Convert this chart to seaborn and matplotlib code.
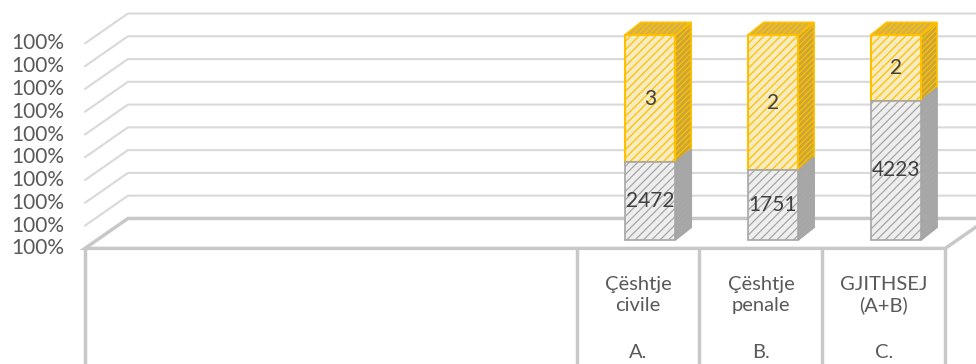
import numpy as np
import pandas as pd
import matplotlib
matplotlib.use("Agg")
from matplotlib import pyplot as plt
from matplotlib.patches import Polygon
import seaborn as sns

# category slots on the axis (first four are empty in the source chart)
categories = ["", "", "", "", "Çështje\ncivile", "Çështje\npenale", "GJITHSEJ\n(A+B)"]
codes = ["", "", "", "", "A.", "B.", "C."]
gray_values = [2472, 1751, 4223]
yellow_values = [3, 2, 2]
# share of the column taken by the gray series, as drawn on the chart
gray_share = [0.38, 0.34, 0.68]
tick_labels = ["100%"] * 10

sns.set_theme(style="white")
plt.rcParams["font.family"] = ["Lato", "DejaVu Sans"]
plt.rcParams["hatch.linewidth"] = 0.9

fig = plt.figure(figsize=(9.76, 3.64), dpi=100)
ax = fig.add_axes([0, 0, 1, 1])

slots = list(range(len(categories)))
bar_slots = slots[4:]
df = pd.DataFrame({"slot": bar_slots, "gray": gray_share, "total": [1.0] * len(bar_slots)})

# 3d geometry (data units): full depth of the floor and depth of the bars
DX, DY = 0.35, 0.146
D_BAR = 0.28
BDX, BDY = 0.13, 0.062


def at(x, y, d):
    return (x + (d - D_BAR) * DX, y + (d - D_BAR) * DY)


grid_col = "#d9d9d9"
floor_col = "#c8c8c8"
x_left, x_right = -0.5, len(categories) - 0.5

# back wall + side wall gridlines
for v in np.linspace(0, 1, 10)[1:]:
    p0 = at(x_left, v, 0)
    p1 = at(x_left, v, 1)
    p2 = at(x_right, v, 1)
    ax.plot([p0[0], p1[0], p2[0]], [p0[1], p1[1], p2[1]], color=grid_col, lw=1.5, zorder=1)

# floor
floor = Polygon([at(x_left, 0, 0), at(x_left, 0, 1), at(x_right, 0, 1), at(x_right, 0, 0)],
                closed=True, facecolor="white", edgecolor=floor_col, lw=2.5, zorder=2)
ax.add_patch(floor)

# category table lines below the floor
y_front = at(0, 0, 0)[1]
for b in [x_left, 3.5, 4.5, 5.5, x_right]:
    xf = at(b, 0, 0)[0]
    ax.plot([xf, xf], [y_front, -0.7], color=floor_col, lw=2.5, zorder=2, solid_capstyle="butt")

# stacked bars
sns.barplot(data=df, x="slot", y="total", native_scale=True, width=0.41, ax=ax,
            color="#fff0b8", edgecolor="#ffc000", linewidth=1.5, hatch="////", zorder=5)
sns.barplot(data=df, x="slot", y="gray", native_scale=True, width=0.41, ax=ax,
            color="#eeeeee", edgecolor="#a6a6a6", linewidth=1.2, hatch="////", zorder=6)

n = len(bar_slots)
bars = list(ax.patches)[-2 * n:]
# yellow series sits on top of the gray one
for p, g in zip(bars[:n], gray_share):
    p.set_y(g)
    p.set_height(1 - g)

for i, p in enumerate(bars):
    is_gray = i >= n
    if hasattr(p, "set_hatchcolor"):
        p.set_hatchcolor("#c4c4c4" if is_gray else "#ffcc33")
    x0, w, y0, h = p.get_x(), p.get_width(), p.get_y(), p.get_height()
    x1, y1 = x0 + w, y0 + h
    side = Polygon([(x1, y0), (x1, y1), (x1 + BDX, y1 + BDY), (x1 + BDX, y0 + BDY)],
                   closed=True, zorder=4,
                   facecolor="#a8a8a8" if is_gray else "#c9a53a",
                   edgecolor="#a6a6a6" if is_gray else "#ffc000", lw=1.2, hatch="//////")
    if hasattr(side, "set_hatchcolor"):
        side.set_hatchcolor("#707070" if is_gray else "#a98517")
    ax.add_patch(side)
    if not is_gray:
        top = Polygon([(x0, y1), (x1, y1), (x1 + BDX, y1 + BDY), (x0 + BDX, y1 + BDY)],
                      closed=True, zorder=4, facecolor="#d4b04a", edgecolor="#ffc000",
                      lw=1.2, hatch="//////")
        if hasattr(top, "set_hatchcolor"):
            top.set_hatchcolor("#a98517")
        ax.add_patch(top)

# data labels
for s, g, gv, yv in zip(bar_slots, gray_share, gray_values, yellow_values):
    ax.text(s, g / 2, str(gv), ha="center", va="center", fontsize=15, color="#404040", zorder=8)
    ax.text(s, (g + 1) / 2, str(yv), ha="center", va="center", fontsize=15, color="#404040", zorder=8)

# value axis labels
for v, lab in zip(np.linspace(0, 1, 10), tick_labels):
    x, y = at(x_left, v, 0)
    ax.text(x - 0.17, y, lab, ha="right", va="center", fontsize=15, color="#595959")

# category labels
for s, cat, code in zip(slots, categories, codes):
    if not cat:
        continue
    xc = at(s, 0, 0)[0]
    ax.text(xc, -0.268, cat, ha="center", va="center", fontsize=14.5, color="#595959", linespacing=1.25)
    ax.text(xc, -0.55, code, ha="center", va="center", fontsize=14.5, color="#595959")

ax.set_xlim(-1.289, 6.652)
ax.set_ylim(-0.605, 1.171)
ax.axis("off")

fig.savefig("out.png", dpi=100)
